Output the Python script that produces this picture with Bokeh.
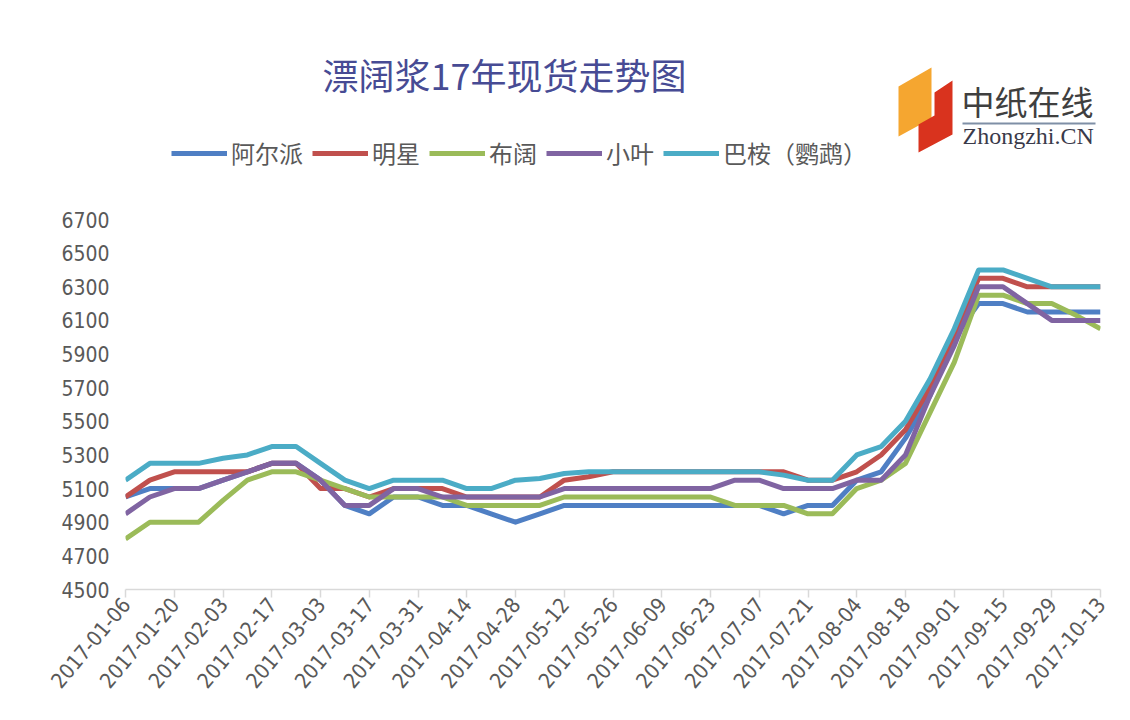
import math
import pandas as pd
from bokeh.plotting import figure
from bokeh.models import (Range1d, FixedTicker, Legend, LegendItem, Label, PolyAnnotation)
from bokeh.embed import file_html
from bokeh.resources import INLINE

# ---------------- data ----------------
dates = [d.strftime("%Y-%m-%d") for d in pd.date_range("2017-01-06", periods=41, freq="7D")]

series_names = ["阿尔派", "明星", "布阔", "小叶", "巴桉（鹦鹉）"]

alpac = [5050, 5100, 5100, 5100, 5150, 5200, 5250, 5250, 5150, 5000,
         4950, 5050, 5050, 5000, 5000, 4950, 4900, 4950, 5000, 5000,
         5000, 5000, 5000, 5000, 5000, 5000, 5000, 4950, 5000, 5000,
         5150, 5200, 5400, 5650, 6000, 6200, 6200, 6150, 6150, 6150, 6150]

mingxing = [5050, 5150, 5200, 5200, 5200, 5200, 5250, 5250, 5100, 5100,
            5050, 5100, 5100, 5100, 5050, 5050, 5050, 5050, 5150, 5170,
            5200, 5200, 5200, 5200, 5200, 5200, 5200, 5200, 5150, 5150,
            5200, 5300, 5450, 5700, 6000, 6350, 6350, 6300, 6300, 6300, 6300]

bukuo = [4800, 4900, 4900, 4900, 5030, 5150, 5200, 5200, 5150, 5100,
         5050, 5050, 5050, 5050, 5000, 5000, 5000, 5000, 5050, 5050,
         5050, 5050, 5050, 5050, 5050, 5000, 5000, 5000, 4950, 4950,
         5100, 5150, 5250, 5550, 5850, 6250, 6250, 6200, 6200, 6130, 6050]

xiaoye = [4950, 5050, 5100, 5100, 5150, 5200, 5250, 5250, 5150, 5000,
          5000, 5100, 5100, 5050, 5050, 5050, 5050, 5050, 5100, 5100,
          5100, 5100, 5100, 5100, 5100, 5150, 5150, 5100, 5100, 5100,
          5150, 5150, 5300, 5650, 5950, 6300, 6300, 6200, 6100, 6100, 6100]

baan = [5150, 5250, 5250, 5250, 5280, 5300, 5350, 5350, 5250, 5150,
        5100, 5150, 5150, 5150, 5100, 5100, 5150, 5160, 5190, 5200,
        5200, 5200, 5200, 5200, 5200, 5200, 5200, 5180, 5150, 5150,
        5300, 5350, 5500, 5750, 6050, 6400, 6400, 6350, 6300, 6300, 6300]

series_values = [alpac, mingxing, bukuo, xiaoye, baan]
colors = ["#4F7FC4", "#C0504D", "#9BBB59", "#8064A2", "#4BACC6"]

y_ticks = list(range(4500, 6701, 200))
x_tick_idx = list(range(0, len(dates), 2))

title_text = "漂阔浆17年现货走势图"
logo_cn = "中纸在线"
logo_en = "Zhongzhi.CN"

# ---------------- layout geometry (page pixels) ----------------
W, H = 1130, 720
FL, FR, FB = 125, 1100, 589          # frame left / right / bottom
Y_LO, Y_HI_PX = 4500, 219            # 6700 sits at pixel row 219
px_per_unit = (FB - Y_HI_PX) / (6700 - 4500)
y_top_value = Y_LO + FB / px_per_unit   # frame reaches the page top

p = figure(width=W, height=H, output_backend="svg", toolbar_location=None,
           x_range=Range1d(0, len(dates) - 1), y_range=Range1d(Y_LO, y_top_value),
           min_border_left=FL, min_border_right=W - FR, min_border_top=0,
           min_border_bottom=H - FB)
p.outline_line_color = None
p.background_fill_color = "white"
p.border_fill_color = "white"
p.xgrid.visible = False
p.ygrid.visible = False

xs = list(range(len(dates)))
items = []
for name, vals, c in zip(series_names, series_values, colors):
    r = p.line(x=xs, y=vals, line_color=c, line_width=5, line_join="round")
    items.append(LegendItem(label=name, renderers=[r]))

# y axis
p.yaxis.ticker = FixedTicker(ticks=y_ticks)
p.yaxis.axis_line_color = None
p.yaxis.major_tick_line_color = None
p.yaxis.minor_tick_line_color = None
p.yaxis.major_label_standoff = 10
p.yaxis.major_label_text_font = "DejaVu Sans Condensed"
p.yaxis.major_label_text_font_size = "21px"
p.yaxis.major_label_text_color = "#595959"

# x axis
p.xaxis.ticker = FixedTicker(ticks=x_tick_idx)
p.xaxis.major_label_overrides = {i: dates[i] for i in x_tick_idx}
p.xaxis.axis_line_color = "#D9D9D9"
p.xaxis.axis_line_width = 1.5
p.xaxis.major_tick_line_color = "#D9D9D9"
p.xaxis.major_tick_line_width = 1.5
p.xaxis.major_tick_in = 0
p.xaxis.major_tick_out = 8
p.xaxis.minor_tick_line_color = None
p.xaxis.major_label_orientation = math.radians(50)
p.xaxis.major_label_standoff = 3
p.xaxis.major_label_text_font = "DejaVu Sans Condensed"
p.xaxis.major_label_text_font_size = "21px"
p.xaxis.major_label_text_color = "#595959"

# helpers: page pixel -> screen units relative to frame (bottom-left origin)
def sx(X):
    return X - FL
def sy(Y):
    return FB - Y

# legend
legend = Legend(items=items, orientation="horizontal", location=(sx(171), sy(170)),
                label_text_font="Noto Sans CJK SC", label_text_font_size="24px",
                label_text_color="#595959", glyph_width=56, glyph_height=22,
                label_standoff=4, spacing=9, padding=0, margin=0,
                border_line_color=None, background_fill_alpha=0)
p.add_layout(legend, "center")

# title
p.add_layout(Label(x=sx(504), y=sy(73), x_units="screen", y_units="screen",
                   text=title_text, text_align="center", text_baseline="middle",
                   text_font="Noto Sans CJK SC", text_font_size="36px",
                   text_color="#474B94"))

# logo shapes
p.add_layout(PolyAnnotation(xs=[sx(898), sx(931), sx(931), sx(898)],
                            ys=[sy(86), sy(67), sy(118), sy(136)],
                            xs_units="screen", ys_units="screen",
                            fill_color="#F5A630", fill_alpha=1, line_color=None))
p.add_layout(PolyAnnotation(xs=[sx(934), sx(952), sx(952), sx(918), sx(918), sx(934)],
                            ys=[sy(92), sy(80), sy(134), sy(152), sy(124), sy(115)],
                            xs_units="screen", ys_units="screen",
                            fill_color="#D9331E", fill_alpha=1, line_color=None))
p.add_layout(Label(x=sx(961), y=sy(100), x_units="screen", y_units="screen",
                   text=logo_cn, text_align="left", text_baseline="middle",
                   text_font="Noto Sans CJK SC", text_font_size="33px",
                   text_color="#3F3F3F"))
p.add_layout(PolyAnnotation(xs=[sx(962), sx(1095), sx(1095), sx(962)],
                            ys=[sy(122), sy(122), sy(124), sy(124)],
                            xs_units="screen", ys_units="screen",
                            fill_color="#7F8FA6", fill_alpha=1, line_color=None))
p.add_layout(Label(x=sx(962), y=sy(135), x_units="screen", y_units="screen",
                   text=logo_en, text_align="left", text_baseline="middle",
                   text_font="Liberation Serif", text_font_size="24px",
                   text_color="#3A3A4A"))

open("out.html", "w").write(file_html(p, INLINE))
